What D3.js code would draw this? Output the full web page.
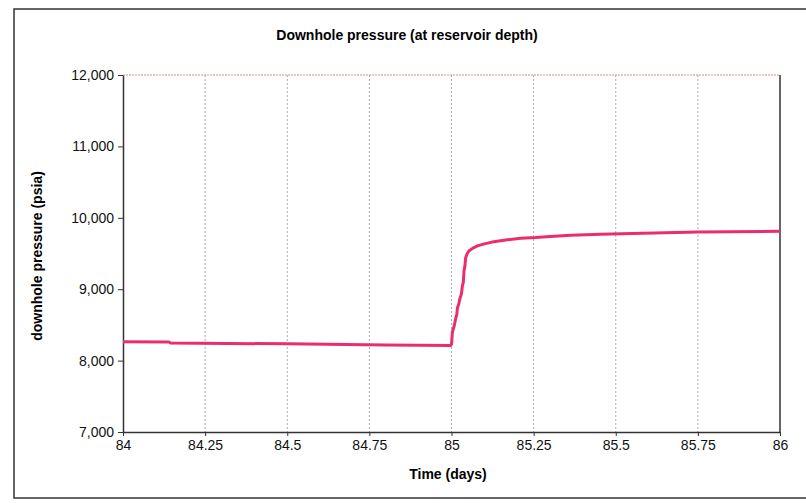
<!DOCTYPE html>
<html><head><meta charset="utf-8">
<script src="https://cdn.jsdelivr.net/npm/d3@7"></script>
<style>body{margin:0;background:#fff}svg{display:block}text{font-family:"Liberation Sans",Arial,sans-serif}</style>
</head><body><svg id="c" width="806" height="503"></svg>
<script>
const title = "Downhole pressure (at reservoir depth)";
const xLabel = "Time (days)";
const yLabel = "downhole pressure (psia)";
const xTicks = [84, 84.25, 84.5, 84.75, 85, 85.25, 85.5, 85.75, 86];
const yTicks = [7000, 8000, 9000, 10000, 11000, 12000];
const timeDays = [84, 84.14, 84.145, 84.5, 84.8, 84.997, 85.0, 85.003, 85.008, 85.013, 85.016, 85.018, 85.022, 85.026, 85.03, 85.033, 85.036, 85.038, 85.041, 85.043, 85.048, 85.053, 85.065, 85.079, 85.1, 85.129, 85.17, 85.211, 85.256, 85.3, 85.363, 85.454, 85.55, 85.65, 85.75, 85.85, 86];
const pressure = [8265, 8262, 8245, 8235, 8220, 8212, 8230, 8408, 8480, 8596, 8640, 8737, 8790, 8878, 8930, 9042, 9100, 9254, 9330, 9441, 9500, 9535, 9575, 9606, 9635, 9666, 9692, 9714, 9723, 9738, 9756, 9770, 9780, 9790, 9800, 9805, 9810];

const svg = d3.select("#c");
// outer frame
svg.append("rect").attr("x",14).attr("y",9).attr("width",800).attr("height",489)
  .attr("fill","none").attr("stroke","#333").attr("stroke-width",1.5);

const L=123, R=780, T=75, B=432;
const x = d3.scaleLinear().domain([84,86]).range([L,R]);
const y = d3.scaleLinear().domain([7000,12000]).range([B,T]);

// vertical gridlines
svg.append("g").selectAll("line").data(xTicks.slice(1,-1)).join("line")
  .attr("x1",d=>x(d)).attr("x2",d=>x(d)).attr("y1",T).attr("y2",B)
  .attr("stroke","#aaa").attr("stroke-width",1).attr("stroke-dasharray","2,2");
// top dotted border
svg.append("line").attr("x1",L).attr("x2",R).attr("y1",T).attr("y2",T)
  .attr("stroke","#d88").attr("stroke-width",1).attr("stroke-dasharray","2,1");
// right border
svg.append("line").attr("x1",R).attr("x2",R).attr("y1",T).attr("y2",B)
  .attr("stroke","#333").attr("stroke-width",1.5);

const xAxis = svg.append("g").attr("transform",`translate(0,${B})`)
  .call(d3.axisBottom(x).tickValues(xTicks).tickFormat(d=>String(d)).tickSize(4).tickSizeOuter(0));
const yAxis = svg.append("g").attr("transform",`translate(${L},0)`)
  .call(d3.axisLeft(y).tickValues(yTicks).tickFormat(d3.format(",")).tickSize(5).tickSizeOuter(0));
[xAxis,yAxis].forEach(a=>{
  a.select(".domain").attr("stroke","#333").attr("stroke-width",1.5);
  a.selectAll(".tick line").attr("stroke","#333");
  a.selectAll("text").attr("fill","#111").style("font-size","14px").style("font-family","'Liberation Sans',Arial,sans-serif");
});
xAxis.selectAll("text").attr("dy","0.75em");
yAxis.selectAll("text").attr("x",-9);

const pts = timeDays.map((t,i)=>[t,pressure[i]]);
svg.append("path").datum(pts)
  .attr("d", d3.line().x(d=>x(d[0])).y(d=>y(d[1])))
  .attr("fill","none").attr("stroke","#ec2d6c").attr("stroke-width",3).attr("stroke-linejoin","round");

svg.append("text").attr("x",407).attr("y",40).attr("text-anchor","middle")
  .style("font-size","14px").style("font-weight","bold").text(title);
svg.append("text").attr("x",448).attr("y",479).attr("text-anchor","middle")
  .style("font-size","14px").style("font-weight","bold").text(xLabel);
svg.append("text").attr("transform","translate(42,256) rotate(-90)").attr("text-anchor","middle")
  .style("font-size","14px").style("font-weight","bold").text(yLabel);
</script></body></html>
